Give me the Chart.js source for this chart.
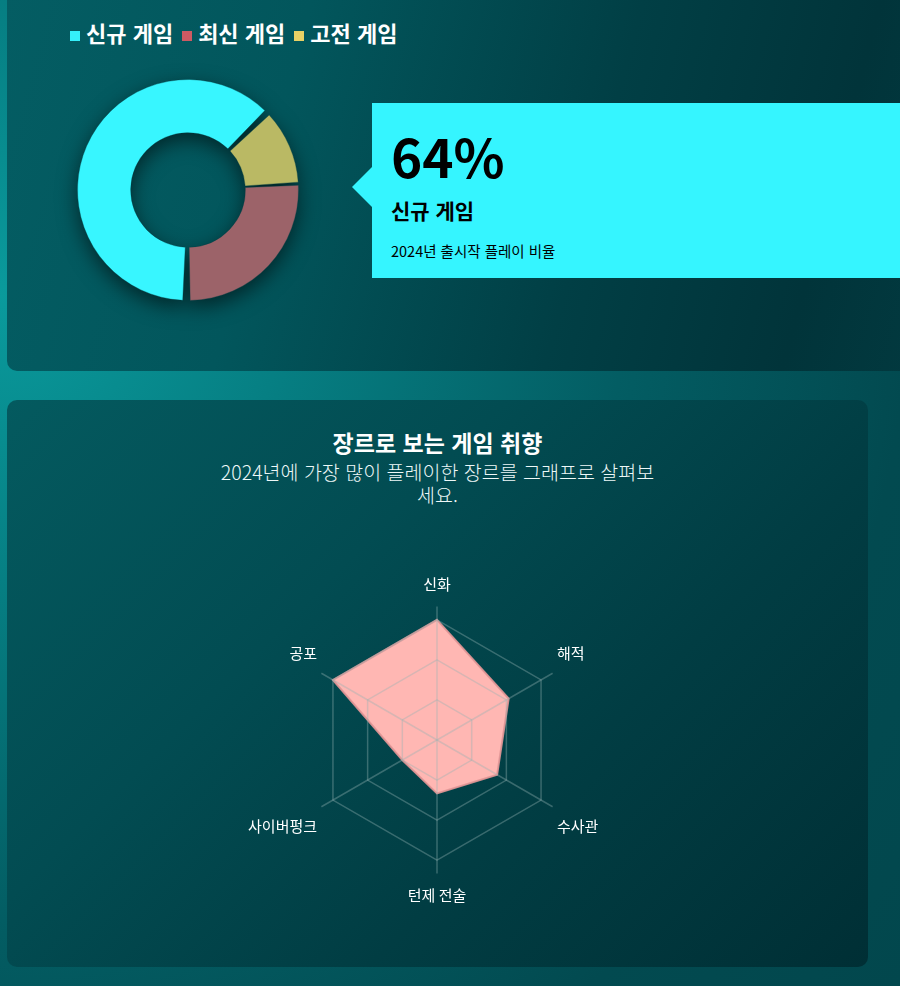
<!DOCTYPE html>
<html lang="ko">
<head>
<meta charset="utf-8">
<title>2024 게임 플레이 통계</title>
<script src="https://cdn.jsdelivr.net/npm/chart.js@4.4.1/dist/chart.umd.min.js"></script>
<style>
  html, body { margin: 0; padding: 0; }
  body {
    width: 900px; height: 986px; overflow: hidden; position: relative;
    background: radial-gradient(circle farthest-corner at 0% 30%, #0a9a9c 0%, #067f83 25%, #035d63 55%, #024a50 80%, #02474d 100%);
    font-family: 'Noto Sans CJK KR', 'Noto Sans', sans-serif;
  }
  .card { position: absolute; border-radius: 10px; }
  #top-card {
    left: 7px; top: -20px; width: 930px; height: 391px;
    background: linear-gradient(105deg, #045d63 0%, #02565c 30%, #013f45 62%, #01343a 85%, #023a40 100%);
  }
  #bottom-card {
    left: 7px; top: 400px; width: 861px; height: 567px;
    background: linear-gradient(135deg, #045a5f 0%, #024c52 35%, #013d43 65%, #002f35 100%);
  }
  #legend { position: absolute; left: 70px; top: 19px; display: flex; gap: 9px; }
  .legend-item { display: flex; align-items: center; color: #fff; font-weight: 700; font-size: 22px; line-height: 26px; }
  .legend-box { width: 10px; height: 10px; margin-right: 6px; position: relative; top: 4px; }
  #donut-wrap {
    position: absolute; left: 77px; top: 79px; width: 222px; height: 222px;
    filter: drop-shadow(0 7px 10px rgba(0, 0, 0, 0.55));
  }
  #callout { position: absolute; left: 372px; top: 103px; width: 560px; height: 175px; background: #35f5ff; }
  #callout::before {
    content: ''; position: absolute; left: -20px; top: 64px;
    border-style: solid; border-width: 20px 20px 20px 0;
    border-color: transparent #35f5ff transparent transparent;
  }
  #callout div { position: absolute; left: 19px; color: #000; white-space: nowrap; }
  #big { top: 26px; font-size: 53px; line-height: 53px; font-weight: 700; }
  #big-name { top: 95px; font-size: 21px; line-height: 24px; font-weight: 700; }
  #big-desc { top: 138px; font-size: 14.5px; line-height: 20px; }
  #genre-title {
    position: absolute; left: 7px; width: 861px; top: 427px; text-align: center;
    color: #fff; font-size: 23px; line-height: 30px; font-weight: 700;
  }
  #genre-sub {
    position: absolute; left: 7px; width: 861px; top: 461px; text-align: center;
    color: #eef8f8; font-size: 19.5px; line-height: 22.5px; font-weight: 300;
  }
  #radar-wrap { position: absolute; left: 137px; top: 567px; width: 600px; height: 346px; }
</style>
</head>
<body>
  <div class="card" id="top-card"></div>
  <div class="card" id="bottom-card"></div>

  <div id="legend"></div>
  <div id="donut-wrap"><canvas id="share-chart"></canvas></div>

  <div id="callout">
    <div id="big">64%</div>
    <div id="big-name">신규 게임</div>
    <div id="big-desc">2024년 출시작 플레이 비율</div>
  </div>

  <div id="genre-title">장르로 보는 게임 취향</div>
  <div id="genre-sub">2024년에 가장 많이 플레이한 장르를 그래프로 살펴보<br>세요.</div>
  <div id="radar-wrap"><canvas id="genre-chart"></canvas></div>

<script>
// doughnut: slices in drawing order (clockwise from the bottom)
const shareLabels = ['신규 게임', '고전 게임', '최신 게임'];
const shareValues = [63, 11, 26];
const shareColors = ['#38f6ff', '#bab964', '#9c6369'];

// legend order and swatch colours as shown above the doughnut
const legendLabels = ['신규 게임', '최신 게임', '고전 게임'];
const legendColors = ['#35f0fa', '#cd5a63', '#e9d165'];

// radar
const genreLabels = ['신화', '해적', '수사관', '턴제 전술', '사이버펑크', '공포'];
const genreValues = [90, 62, 52, 40, 30, 90];
const genreMin = 0;
const genreMax = 100;
const genreStep = 30;

const gridColor = 'rgba(150, 178, 178, 0.38)';
const fontFamily = "'Noto Sans CJK KR', 'Noto Sans', sans-serif";

// legend
const legendEl = document.getElementById('legend');
legendLabels.forEach((label, i) => {
    const item = document.createElement('div');
    item.className = 'legend-item';
    item.innerHTML = `<span class="legend-box" style="background:${legendColors[i]}"></span>${label}`;
    legendEl.appendChild(item);
});

new Chart(document.getElementById('share-chart'), {
    type: 'doughnut',
    data: {
        labels: shareLabels,
        datasets: [{
            data: shareValues,
            backgroundColor: shareColors,
            borderWidth: 1,
            borderColor: 'rgba(0, 60, 66, 0.35)',
            spacing: 4,
            hoverOffset: 0
        }]
    },
    options: {
        responsive: true,
        maintainAspectRatio: false,
        animation: false,
        rotation: 180,
        cutout: '51%',
        layout: { padding: 0 },
        plugins: {
            legend: { display: false },
            tooltip: { enabled: false }
        }
    }
});

new Chart(document.getElementById('genre-chart'), {
    type: 'radar',
    data: {
        labels: genreLabels,
        datasets: [{
            data: genreValues,
            backgroundColor: '#ffb7b3',
            borderColor: 'rgba(226, 150, 150, 0.9)',
            borderWidth: 2,
            pointRadius: 0,
            pointHoverRadius: 0,
            fill: true
        }]
    },
    options: {
        responsive: true,
        maintainAspectRatio: false,
        animation: false,
        plugins: {
            legend: { display: false },
            tooltip: { enabled: false }
        },
        scales: {
            r: {
                min: genreMin,
                max: genreMax,
                ticks: { display: false, stepSize: genreStep },
                grid: {
                    z: 1,
                    lineWidth: 1.5,
                    // no ring on the outer bound, only on the step ticks
                    color: ctx => (ctx.tick && ctx.tick.value >= genreMax) ? 'rgba(0,0,0,0)' : gridColor
                },
                angleLines: { color: gridColor, lineWidth: 1.5 },
                pointLabels: {
                    color: '#ffffff',
                    padding: 5,
                    font: { family: fontFamily, size: 15, lineHeight: 2.3 }
                }
            }
        }
    }
});
</script>
</body>
</html>
